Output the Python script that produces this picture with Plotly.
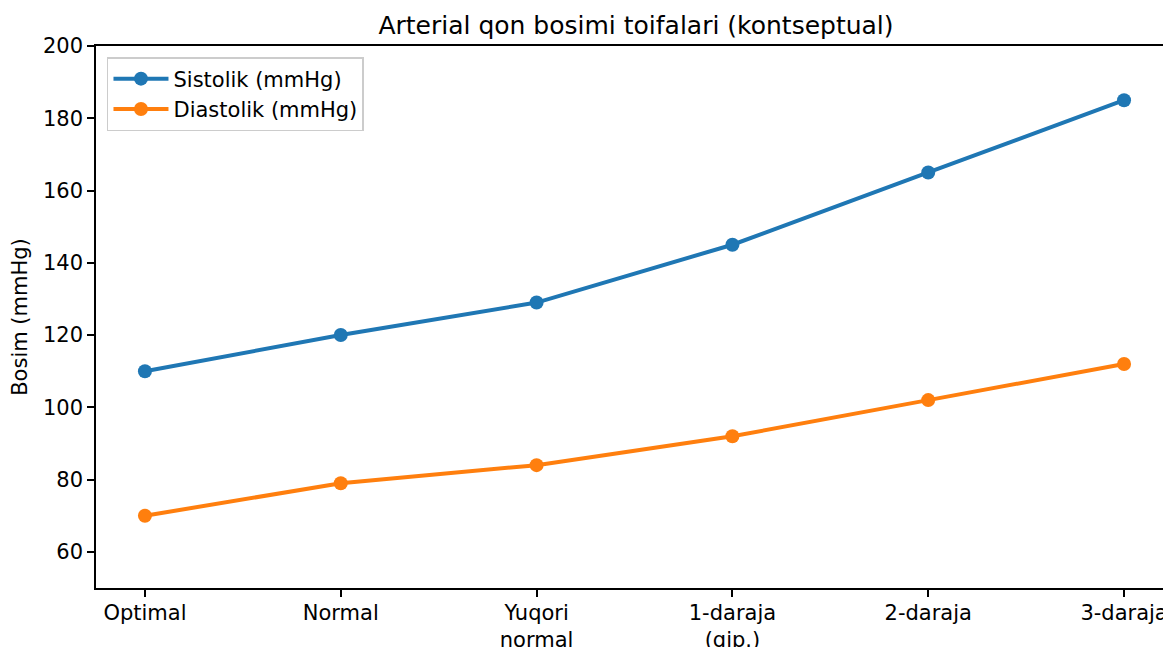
import plotly.graph_objects as go

categories = ["Optimal", "Normal", "Yuqori<br>normal", "1-daraja<br>(gip.)", "2-daraja", "3-daraja"]
sistolik = [110, 120, 129, 145, 165, 185]
diastolik = [70, 79, 84, 92, 102, 112]
y_ticks = [60, 80, 100, 120, 140, 160, 180, 200]

xpos = list(range(len(categories)))
FONT = "DejaVu Sans"

# page body has an 8px margin; figure extends slightly past the window on the right,
# like the reference whose right spine lies just outside the picture
W, H = 1167, 639
L, T, B, R = 88, 38, 59, 0
plot_w = W - L - R

fig = go.Figure()
fig.add_trace(go.Scatter(x=xpos, y=sistolik, mode="lines+markers", name="Sistolik (mmHg)",
                         line=dict(color="#1f77b4", width=4),
                         marker=dict(color="#1f77b4", size=14)))
fig.add_trace(go.Scatter(x=xpos, y=diastolik, mode="lines+markers", name="Diastolik (mmHg)",
                         line=dict(color="#ff7f0e", width=4),
                         marker=dict(color="#ff7f0e", size=14)))

fig.update_layout(
    width=W, height=H,
    margin=dict(l=L, r=R, t=T, b=B, pad=0),
    plot_bgcolor="white", paper_bgcolor="white",
    font=dict(family=FONT, size=21, color="black"),
    title=dict(text="Arterial qon bosimi toifalari (kontseptual)", x=628 / W,
               xanchor="center", y=1 - 17 / H, yanchor="middle",
               font=dict(family=FONT, size=25, color="black")),
    xaxis=dict(range=[-0.25, 5.25], tickvals=xpos, ticktext=categories, automargin=False,
               showgrid=False, zeroline=False, showline=True, mirror=True,
               linecolor="black", linewidth=1.6,
               ticks="outside", ticklen=7, tickwidth=1.6, tickcolor="black",
               ticklabelstandoff=-2,
               tickfont=dict(size=21)),
    yaxis=dict(range=[50, 200], tickvals=y_ticks, showgrid=False, zeroline=False,
               showline=True, mirror=True, linecolor="black", linewidth=1.6,
               ticks="outside", ticklen=7, tickwidth=1.6, tickcolor="black",
               tickfont=dict(size=21),
               title=dict(text="Bosim (mmHg)", font=dict(size=21), standoff=12)),
    legend=dict(x=11 / plot_w, y=1 - 11 / (H - T - B), xanchor="left", yanchor="top",
                bgcolor="rgba(255,255,255,0.8)", bordercolor="#cccccc", borderwidth=1.5,
                itemwidth=55, font=dict(size=21)),
)

fig.write_html("out.html")
